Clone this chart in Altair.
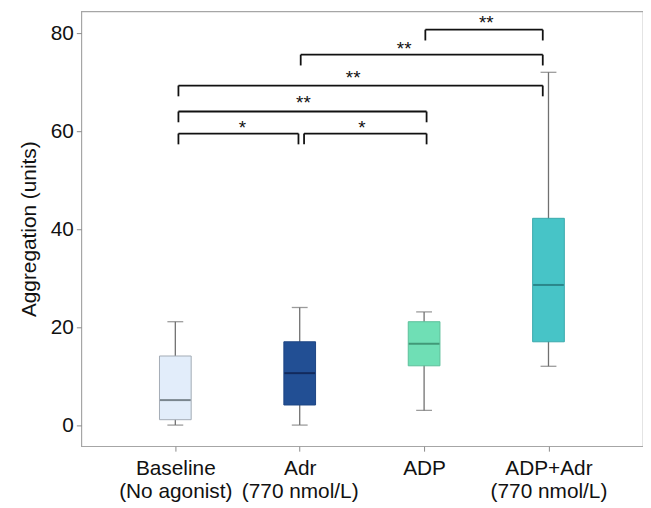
import json
import altair as alt
import pandas as pd

# ---- data ----
categories = ["Baseline", "Adr", "ADP", "ADP+Adr"]
label_lines = [["Baseline", "(No agonist)"], ["Adr", "(770 nmol/L)"], ["ADP"], ["ADP+Adr", "(770 nmol/L)"]]
positions = [0, 1, 2, 3]
whisker_low = [0.0, 0.0, 3.0, 12.0]
q1 = [1.1, 4.1, 12.1, 17.0]
median = [5.1, 10.6, 16.6, 28.6]
q3 = [14.1, 17.0, 21.1, 42.2]
whisker_high = [21.1, 24.0, 23.1, 72.0]

fill_colors = ["#e2edfa", "#224f94", "#6fdfb5", "#47c4c7"]
stroke_colors = ["#a3abb5", "#1d4584", "#5cbf9a", "#3aa9ac"]
median_colors = ["#4f5a60", "#0b1b45", "#2d7a5c", "#1f6c70"]

bracket_x1 = [0.025, 1.035, 0.025, 0.025, 1.008, 2.01]
bracket_x2 = [0.99, 2.02, 2.02, 2.954, 2.954, 2.954]
bracket_y = [59.5, 59.5, 64.0, 69.3, 75.6, 80.7]
star_text = ["*", "*", "**", "**", "**", "**"]
star_x = [0.54, 1.50, 1.03, 1.43, 1.84, 2.50]
star_y = [61.4, 61.5, 66.6, 71.6, 77.5, 82.8]

y_ticks = [0, 20, 40, 60, 80]

# ---- tables ----
box_df = pd.DataFrame({
    "cat": categories, "x": positions, "lo": whisker_low, "q1": q1,
    "med": median, "q3": q3, "hi": whisker_high,
    "fill": fill_colors, "stroke": stroke_colors, "mcol": median_colors,
})

DROP = 2.2
h_df = pd.DataFrame({"x1": bracket_x1, "x2": bracket_x2, "y": bracket_y})
v_rows = []
for a, b, y in zip(bracket_x1, bracket_x2, bracket_y):
    v_rows.append({"x": a, "y": y, "y2": y - DROP})
    v_rows.append({"x": b, "y": y, "y2": y - DROP})
v_df = pd.DataFrame(v_rows)
star_df = pd.DataFrame({"t": star_text, "x": star_x, "y": star_y})

FONT = "Liberation Sans"
FS = 21
xscale = alt.Scale(domain=[-0.716, 3.72], nice=False, zero=False)
yscale = alt.Scale(domain=[-4.31, 84.45], nice=False, zero=False)

label_expr = json.dumps(label_lines) + "[datum.value]"
xaxis = alt.Axis(values=positions, labelExpr=label_expr, title=None, grid=False,
                 domain=False, tickColor="#8a8a8a", tickSize=5, labelFontSize=FS,
                 labelFont=FONT, labelColor="#111111", labelPadding=7,
                 labelLineHeight=22.7, labelFlush=False, labelOverlap=False)
yaxis = alt.Axis(values=y_ticks, title="Aggregation (units)", grid=False, domain=False,
                 tickColor="#8a8a8a", tickSize=5, labelFontSize=FS, labelFont=FONT,
                 labelColor="#111111", labelPadding=3, titleFont=FONT,
                 titleFontSize=FS, titleFontWeight="normal", titleColor="#111111",
                 titlePadding=11, labelFlush=False)


def X(field="x"):
    return alt.X(f"{field}:Q", scale=xscale, axis=xaxis)


def Y(field="y"):
    return alt.Y(f"{field}:Q", scale=yscale, axis=yaxis)


whiskers = alt.Chart(box_df).mark_rule(color="#707070", strokeWidth=1.3).encode(
    x=X(), y=Y("lo"), y2="hi:Q")
cap_lo = alt.Chart(box_df).mark_tick(orient="horizontal", size=16, thickness=1.3,
                                     color="#707070").encode(x=X(), y=Y("lo"))
cap_hi = alt.Chart(box_df).mark_tick(orient="horizontal", size=16, thickness=1.3,
                                     color="#707070").encode(x=X(), y=Y("hi"))
boxes = alt.Chart(box_df).mark_bar(size=32, strokeWidth=1).encode(
    x=X(), y=Y("q1"), y2="q3:Q",
    fill=alt.Fill("fill:N", scale=None), stroke=alt.Stroke("stroke:N", scale=None))
medians = alt.Chart(box_df).mark_tick(orient="horizontal", size=31, thickness=2).encode(
    x=X(), y=Y("med"), color=alt.Color("mcol:N", scale=None))

br_h = alt.Chart(h_df).mark_rule(color="#111111", strokeWidth=1.8).encode(
    x=X("x1"), x2="x2:Q", y=Y("y"))
br_v = alt.Chart(v_df).mark_rule(color="#111111", strokeWidth=1.8).encode(
    x=X("x"), y=Y("y"), y2="y2:Q")
stars = alt.Chart(star_df).mark_text(font=FONT, fontSize=19, color="#111111",
                                     baseline="middle", dy=4).encode(
    x=X("x"), y=Y("y"), text="t:N")

chart = alt.layer(whiskers, cap_lo, cap_hi, boxes, medians, br_h, br_v, stars).properties(
    width=567, height=439, autosize="none",
    padding={"left": 74, "top": 1, "right": 0, "bottom": 56},
).configure_view(stroke="#a6a6a6", strokeWidth=1.2)

chart.save("out.html", embed_options={"renderer": "svg", "actions": False})
